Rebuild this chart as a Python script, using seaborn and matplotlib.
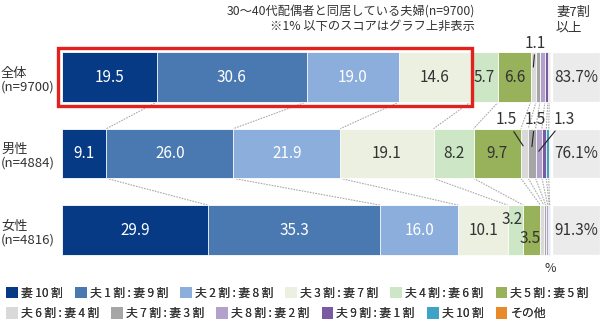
import numpy as np
import pandas as pd
import seaborn as sns
import matplotlib.pyplot as plt
import matplotlib.transforms as mtransforms
from matplotlib.patches import Rectangle, Patch

# Household-chore split between husband and wife (%), couples aged 30-40s
groups = ["全体", "男性", "女性"]
group_n = ["9700", "4884", "4816"]
ratio_labels = ["妻\u200910\u2009割", "夫\u20091\u2009割\u2009:\u2009妻\u20099\u2009割",
                "夫\u20092\u2009割\u2009:\u2009妻\u20098\u2009割",
                "夫\u20093\u2009割\u2009:\u2009妻\u20097\u2009割",
                "夫\u20094\u2009割\u2009:\u2009妻\u20096\u2009割",
                "夫\u20095\u2009割\u2009:\u2009妻\u20095\u2009割",
                "夫\u20096\u2009割\u2009:\u2009妻\u20094\u2009割",
                "夫\u20097\u2009割\u2009:\u2009妻\u20093\u2009割",
                "夫\u20098\u2009割\u2009:\u2009妻\u20092\u2009割",
                "夫\u20099\u2009割\u2009:\u2009妻\u20091\u2009割",
                "夫\u200910\u2009割", "その他"]
total_share = [19.5, 30.6, 19.0, 14.6, 5.7, 6.6, 1.1, 0.8, 1.0, 0.6, 0.3, 0.2]
male_share = [9.1, 26.0, 21.9, 19.1, 8.2, 9.7, 1.5, 1.5, 1.3, 0.9, 0.5, 0.3]
female_share = [29.9, 35.3, 16.0, 10.1, 3.2, 3.5, 0.7, 0.4, 0.4, 0.3, 0.1, 0.1]

palette = ["#063a85", "#4a79b2", "#8caedc", "#ebf0e0", "#cde7c6", "#97b25a",
           "#d9d9d9", "#a6a6a6", "#b2a2cb", "#7a5aa0", "#3fa3c5", "#e8892a"]
white_text = {0, 1, 2}
WIFE_MAJOR = 4  # first four categories: wife does 70% or more

df = pd.DataFrame([total_share, male_share, female_share],
                  index=groups, columns=ratio_labels)
cum = df.cumsum(axis=1)
wife_major = df.iloc[:, :WIFE_MAJOR].sum(axis=1)

sns.set_theme(style="white")
plt.rcParams['font.family'] = ['Noto Sans CJK JP', 'DejaVu Sans']
TXT = "#333333"

W, H = 600, 325
fig = plt.figure(figsize=(W / 100, H / 100), dpi=100)
ax = fig.add_axes([62 / W, 65 / H, 538 / W, 260 / H])

BAR_W = 0.65
# stacked bars: draw running totals from the widest down
for k in range(len(ratio_labels) - 1, -1, -1):
    sns.barplot(x=cum.iloc[:, k].values, y=groups, order=groups, orient="h",
                color=palette[k], saturation=1, width=BAR_W, errorbar=None,
                edgecolor="white", linewidth=0.6, ax=ax)

ax.set_xlim(0, 110.2)
ax.set_ylim(2.392, -1.0065)
ax.axis("off")

# summary box: wife share 70% or more
ax.barh(range(len(groups)), 9.8, left=100.4, height=BAR_W, color="#ebebeb")
for i, g in enumerate(groups):
    ax.text(105.3, i, f"{wife_major[g]:.1f}%", ha="center", va="center",
            fontsize=11, color=TXT)

# dotted connectors between segment boundaries of consecutive rows
for i in range(len(groups) - 1):
    for k in range(len(ratio_labels) - 1):
        ax.plot([cum.iloc[i, k], cum.iloc[i + 1, k]],
                [i + BAR_W / 2, i + 1 - BAR_W / 2],
                color="#ababab", lw=0.8, ls=(0, (1.5, 1)), zorder=0)

# value labels
inside_min = 5.0
outside = {
    (0, 6): ((2, 24), (0, -0.13), True),
    (1, 6): ((-17, 26), (-0.3, -0.1), True),
    (1, 7): ((3, 27), (0, -0.09), True),
    (1, 8): ((26, 32), (0, -0.03), True),
    (2, 4): ((-3.5, 11), (0, 0), False),
    (2, 5): ((-2, -8), (0, 0), False),
}
for i, g in enumerate(groups):
    for k, lab in enumerate(ratio_labels):
        v = df.iloc[i, k]
        if v <= 1.0:
            continue
        cx = cum.iloc[i, k] - v / 2
        if v >= inside_min:
            ax.text(cx, i, f"{v:.1f}", ha="center", va="center", fontsize=11,
                    color="white" if k in white_text else TXT)
        elif (i, k) in outside:
            off, dxy, lead = outside[(i, k)]
            ax.annotate(f"{v:.1f}", xy=(cx + dxy[0], i + dxy[1]),
                        xytext=off, textcoords="offset pixels",
                        ha="center", va="center", fontsize=11, color=TXT,
                        arrowprops=dict(arrowstyle="-", color="#222222", lw=0.8,
                                        shrinkA=0, shrinkB=0) if lead else None)

# highlight frame around the overall wife-major block
ax.add_patch(Rectangle((-0.8, -0.385), wife_major[groups[0]] + 1.1, 0.77,
                       fill=False, edgecolor="#e3211c", lw=2.4, zorder=5,
                       clip_on=False))

# row labels
blend = mtransforms.blended_transform_factory(fig.transFigure, ax.transData)
for i, (g, n) in enumerate(zip(groups, group_n)):
    ax.text(1 / W, i + 0.04, f"{g}\n(n={n})", transform=blend, ha="left",
            va="center", fontsize=9.5, color=TXT, linespacing=1.05)

# headings
fig.text(475 / W, 1 - 12 / H, "30～40代配偶者と同居している夫婦(n=9700)",
         ha="right", va="center", fontsize=8.8, color=TXT)
fig.text(475 / W, 1 - 26 / H, "※1% 以下のスコアはグラフ上非表示",
         ha="right", va="center", fontsize=8.8, color=TXT)
fig.text(556 / W, 1 - 20 / H, "妻7割\n以上", ha="left", va="center",
         fontsize=9.5, color=TXT, linespacing=1.3)
fig.text(550 / W, 1 - 268 / H, "%", ha="center", va="center",
         fontsize=9, color=TXT)

# legend in two rows
handles = [Patch(facecolor=c, edgecolor="none", label=l)
           for c, l in zip(palette, ratio_labels)]
for r, yc in enumerate([293, 313.5]):
    leg = fig.legend(handles=handles[r * 6:(r + 1) * 6], loc="center left",
                     bbox_to_anchor=(6 / W, 1 - yc / H), ncol=6, frameon=False,
                     fontsize=8.6, handlelength=1.0, handleheight=1.1,
                     handletextpad=0.25, columnspacing=1.0, borderpad=0,
                     borderaxespad=0)
    for t in leg.get_texts():
        t.set_color(TXT)
    fig.add_artist(leg)

fig.savefig("out.png", dpi=100)
